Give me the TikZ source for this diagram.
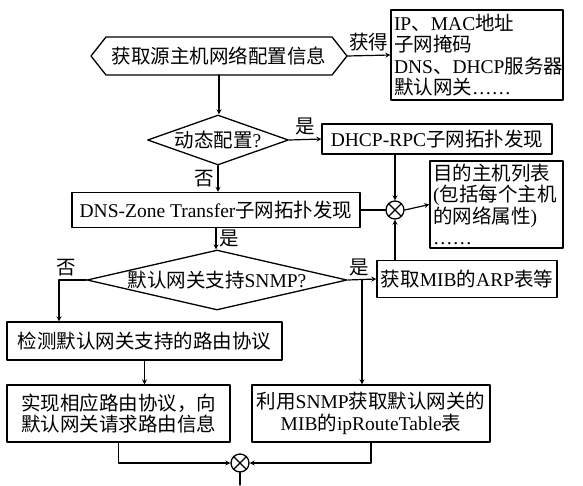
\documentclass[tikz,border=0pt]{standalone}
\usepackage{fontspec}
\setmainfont{Noto Sans CJK SC}
\newfontfamily\cjkfont{Noto Sans CJK SC}
\newfontfamily\latinfont{Liberation Serif}
% Latin letters in a serif, Chinese in the CJK face
\newcount\cjkchar
\cjkchar="2E80
\loop
  \XeTeXcharclass\cjkchar=7
  \advance\cjkchar by 1
\ifnum\cjkchar<"A000 \repeat
\cjkchar="FF00
\loop
  \XeTeXcharclass\cjkchar=7
  \advance\cjkchar by 1
\ifnum\cjkchar<"FFF0 \repeat
\XeTeXinterchartokenstate=1
\XeTeXinterchartoks 0 7 = {\cjkfont}
\XeTeXinterchartoks 4095 7 = {\cjkfont}
\XeTeXinterchartoks 7 0 = {\latinfont}
\XeTeXinterchartoks 4095 0 = {\latinfont}
\usetikzlibrary{shapes.geometric}
\tikzset{
  box/.style={draw,line width=1.3pt,inner sep=3pt},
  dia/.style={draw,diamond,line width=1.3pt,inner sep=0pt},
  xnode/.style={circle,draw,line width=1.3pt,minimum size=18pt,inner sep=0pt,
    path picture={\draw[line width=1.2pt] (path picture bounding box.north west) -- (path picture bounding box.south east)
      (path picture bounding box.north east) -- (path picture bounding box.south west);}}
}
\begin{document}
\begin{tikzpicture}[x=1pt,y=-1pt,line cap=round,line join=round,>=stealth,line width=1.2pt,
  font=\fontsize{19.5}{21.5}\selectfont]
	\useasboundingbox (0,0) rectangle (583,485);
	\node[minimum width=226,minimum height=38,inner sep=0pt,outer sep=0pt] (src) at (219,56) {获取源主机网络配置信息};
	\draw[line width=1.3pt] (src.north west) -- (src.north east) -- ([xshift=15]src.east) -- (src.south east)
	  -- (src.south west) -- ([xshift=-15]src.west) -- cycle;
	\node[box,text width=166,align=left,minimum height=90] (info) at (477,55) {IP、MAC地址\\子网掩码\\DNS、DHCP服务器\\默认网关……};
	\node[dia,aspect=2.82,minimum width=141,minimum height=50] (d1) at (218,140) {动态配置?};
	\node[box,minimum width=230,minimum height=30] (dhcp) at (437,139) {DHCP-RPC子网拓扑发现};
	\node[box,minimum width=288,minimum height=35] (dns) at (216,210) {DNS-Zone Transfer子网拓扑发现};
	\node[xnode] (c1) at (395,210) {};
	\node[box,text width=127,align=left,minimum height=85] (dest) at (496.5,204.5) {目的主机列表\\(包括每个主机\\的网络属性)\\……};
	\node[dia,aspect=4.33,minimum width=260,minimum height=60] (d2) at (217,280) {默认网关支持SNMP?};
	\node[box,minimum width=180,minimum height=37] (arp) at (467,279) {获取MIB的ARP表等};
	\node[box,minimum width=275,minimum height=38] (det) at (144.5,341) {检测默认网关支持的路由协议};
	\node[box,minimum width=223,minimum height=57,align=center] (impl) at (118.5,413.5) {实现相应路由协议，向\\默认网关请求路由信息};
	\node[box,minimum width=238,minimum height=57,align=center] (snmp) at (371,413.5) {利用SNMP获取默认网关的\\MIB的ipRouteTable表};
	\node[xnode] (c2) at (240,463) {};
	\coordinate (nturn) at (59,280);
	\coordinate (br) at (362,280);
	\coordinate (out) at (240,485);
	% connectors
	\draw[->] (src.south) -- (src.south |- d1.north);
	\draw[->] ([xshift=15]src.east) -- node[above]{获得} (info.west);
	\draw[->] (d1.east) -- node[above]{是} (dhcp.west);
	\draw[->] (d1.south) -- node[left]{否} (d1.south |- dns.north);
	\draw (dns.east) -- (c1.west);
	\draw[->] (c1 |- dhcp.south) -- (c1.north);
	\draw[->] (c1 |- arp.north) -- (c1.south);
	\draw[->] (c1.east) -- (dest.west);
	\draw[->] (dns.south) -- node[right]{是} (dns.south |- d2.north);
	\draw[->] (d2.west) -- node[above,near end]{否} (nturn) -- (nturn |- det.north);
	\draw[->] (d2.east) -- node[above,pos=0.4]{是} (arp.west);
	\draw[->] (br) -- (br |- snmp.north);
	\draw[->] (det.south) -- (det.south |- impl.north);
	\draw[->] (impl.south) |- (c2.west);
	\draw[->] (snmp.south) |- (c2.east);
	\draw (c2.south) -- (out);
\end{tikzpicture}
\end{document}
